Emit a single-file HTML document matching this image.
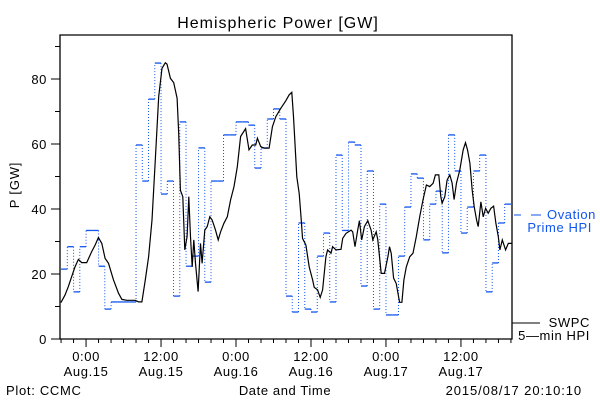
<!DOCTYPE html>
<html><head><meta charset="utf-8"><style>
html,body{margin:0;padding:0;background:#fff;}
svg{display:block;font-family:"Liberation Sans",sans-serif;}
</style></head><body>
<svg id="chart" width="600" height="400" viewBox="0 0 600 400" xmlns="http://www.w3.org/2000/svg">
<rect width="600" height="400" fill="#fff"/>
<text x="278" y="28" font-size="16" letter-spacing="1" text-anchor="middle" fill="#000">Hemispheric Power [GW]</text>
<text transform="translate(19,185) rotate(-90)" font-size="13" letter-spacing="0.8" text-anchor="middle" fill="#000">P [GW]</text>
<text x="285" y="395" font-size="13" letter-spacing="0.6" text-anchor="middle" fill="#000">Date and Time</text>
<text x="6" y="395" font-size="13" letter-spacing="0.7" fill="#000">Plot: CCMC</text>
<text x="582" y="395" font-size="13" letter-spacing="0.9" text-anchor="end" fill="#000">2015/08/17 20:10:10</text>
<g id="legend">
<g>
<line x1="514" y1="215" x2="521" y2="215" stroke="#1155ee" stroke-width="1"/>
<line x1="531" y1="215" x2="541" y2="215" stroke="#1155ee" stroke-width="1"/>
<text x="596" y="219" font-size="13" letter-spacing="0.6" fill="#1155ee" text-anchor="end">Ovation</text>
<text x="592" y="232" font-size="13" letter-spacing="0.6" fill="#1155ee" text-anchor="end">Prime HPI</text>
</g>
<g>
<line x1="512" y1="323" x2="540" y2="323" stroke="#000" stroke-width="1"/>
<text x="590" y="327" font-size="13" letter-spacing="0.6" fill="#000" text-anchor="end">SWPC</text>
<text x="590" y="340" font-size="13" letter-spacing="0.6" fill="#000" text-anchor="end">5—min HPI</text>
</g>
</g>
<g id="plot"></g>
</svg>
<script>
// data (hours relative to Aug.15 0:00)
const ovationStart = -4.0;
const ovationValues = [21.5,28.4,14.5,28.4,33.4,33.4,22.4,9.2,11.4,11.4,11.4,11.4,59.7,48.6,73.8,84.9,44.6,48.6,13.2,66.8,22.4,25.5,58.8,17.5,48.6,48.6,62.8,62.8,66.8,66.8,65.8,52.6,58.8,67.7,70.8,67.7,13.2,8.3,35.7,9.2,8.3,25.5,32.6,11.4,56.6,33.4,60.6,59.7,16.3,51.7,9.2,41.5,7.4,7.4,25.5,40.6,50.8,49.5,30.5,41.5,45.5,26.5,62.8,51.7,32.6,40.6,51.7,56.6,14.5,23.4,35.7,41.5];
const hpiTimes = [-4.02,-3.37,-2.84,-2.30,-1.77,-1.23,-0.70,0.11,0.91,1.45,1.98,2.52,3.05,3.59,4.39,5.2,5.73,6.53,7.87,8.41,8.94,9.48,10.01,10.55,11.08,11.62,12.15,12.69,12.96,13.5,14.03,14.57,14.83,15.1,15.48,15.8,16.17,16.44,16.71,16.98,17.24,17.51,17.94,18.31,18.58,19.01,19.39,19.81,20.19,20.72,21.15,21.53,22.06,22.6,23.13,23.67,24.2,24.74,25.54,26.08,26.61,27.15,27.42,27.95,28.49,29.29,29.83,30.36,31.16,31.97,32.5,32.93,33.2,33.41,33.73,34.11,34.48,34.64,35.18,35.71,36.25,36.52,37.05,37.48,37.86,38.39,38.66,39.2,39.46,40,40.8,41.07,41.6,42.41,42.68,43.05,43.48,43.75,44.12,44.55,45.09,45.62,45.89,46.43,46.7,47.24,47.77,48.31,48.57,48.84,49.22,49.64,50.18,50.55,50.87,51.25,51.79,52.32,52.86,53.39,53.93,54.47,55,55.54,55.91,56.45,56.77,56.98,57.41,57.79,58.22,58.59,58.91,59.29,59.82,60.36,60.73,61.05,61.43,61.8,62.12,62.5,62.76,63.19,63.56,63.94,64.36,64.79,65.22,65.59,65.97,66.24,66.61,67.15,67.58,68.11];
const hpiValues = [11.2,13.5,16.1,19.2,22.2,24.5,23.5,23.5,26.9,28.9,31.2,29.4,24.8,23.3,18.2,14.1,12.2,11.9,11.9,11.4,11.4,18.2,25.3,36.6,55.1,74.6,83.3,85,84.6,80.2,78.9,74.1,63.3,45.8,43.8,27.4,31.5,43.8,31.5,22.2,30.5,23.3,14.6,29.4,23.3,33.5,34.6,37.6,36.6,33.5,30.5,33,35.6,37.6,42.8,46.9,53,62.3,64.7,58.2,59.7,59.7,61.8,59.2,58.7,58.7,65.3,68.4,71,73.3,75.1,75.9,68.4,61.2,49.9,44.8,35.6,31,28.9,22.2,18.2,15.9,15.1,12.8,15.1,25.3,27.4,26.4,28.4,27.4,27.6,31,32.5,33.5,33,28.4,33.5,36.4,30.5,34.6,36.4,33.5,30.5,33,30.5,20.2,20.2,25.3,28.4,26.4,18.7,17.1,11.3,11.3,18.2,22.2,25.3,26.4,31.5,37.6,42.8,47.4,46.9,47.9,50.5,50.5,43.8,41.8,43.8,48.9,50.5,48,42.9,48,52,58.2,60.4,58.2,54.1,45.8,40.7,36.6,34.6,42.2,37.6,40.2,38.7,40.2,40.9,35.6,31.5,27.4,30.5,27.4,29.4,29.4];
const yTickValues = [0,20,40,60,80];
const xTickHours = [0,12,24,36,48,60];
const xTickTimes = ["0:00","12:00","0:00","12:00","0:00","12:00"];
const xTickDates = ["Aug.15","Aug.15","Aug.16","Aug.16","Aug.17","Aug.17"];

const L=60,R=512,T=35,B=339;
const hMin=-4.17,hMax=68.17;
function xs(h){return L+(h-hMin)/(hMax-hMin)*(R-L);}
function ys(v){return B-v*3.25;}
const NS="http://www.w3.org/2000/svg";
const g=document.getElementById('plot');
function el(tag,attrs,parent){const e=document.createElementNS(NS,tag);for(const k in attrs)e.setAttribute(k,attrs[k]);(parent||g).appendChild(e);return e;}

// ovation series
const ovG=el('g',{});


for(let i=0;i<ovationValues.length;i++){
  const x1=xs(ovationStart+i),x2=Math.min(xs(ovationStart+i+1),R);
  const y=ys(ovationValues[i]);
  const s=el('line',{x1:x1,y1:y,x2:x2,y2:y,stroke:'#1155ee','stroke-width':1.3},ovG);
  
  
  if(i<ovationValues.length-1){
    const yn=ys(ovationValues[i+1]);
    const d=el('line',{x1:x2,y1:y,x2:x2,y2:yn,stroke:'#1155ee','stroke-width':1,'stroke-dasharray':'1 2'},ovG);
    
    
  }
}
// hpi line
const pts=hpiTimes.map((t,i)=>Math.min(xs(t),R).toFixed(1)+','+ys(hpiValues[i]).toFixed(1)).join(' ');
const hl=el('polyline',{points:pts,fill:'none',stroke:'#000','stroke-width':1.2});



// axes box
const box=el('path',{d:`M${L},${T}H${R}V${B}H${L}Z`,fill:'none',stroke:'#000','stroke-width':1.3});


// y ticks
for(let v=0;v<=90;v+=10){
  const major=v%20===0;
  const t=el('line',{x1:major?51:55,x2:L,y1:ys(v),y2:ys(v),stroke:'#000','stroke-width':1});
  
  
}
yTickValues.forEach(v=>{
  const t=el('text',{x:47,y:ys(v)+5,'font-size':13,'letter-spacing':0.6,'text-anchor':'end',fill:'#000'});
  t.textContent=v;
  
  
});
// x ticks
for(let h=-4;h<=68;h+=2){
  const major=h%12===0;
  const t=el('line',{x1:xs(h),x2:xs(h),y1:B,y2:major?B+8:B+4,stroke:'#000','stroke-width':1});
  
  
}
xTickHours.forEach((h,i)=>{
  const t=el('text',{x:xs(h),y:361,'font-size':13,'letter-spacing':0.6,'text-anchor':'middle',fill:'#000'});
  t.textContent=xTickTimes[i];
  
  
  const d=el('text',{x:xs(h),y:376,'font-size':13,'letter-spacing':0.6,'text-anchor':'middle',fill:'#000'});
  d.textContent=xTickDates[i];
  
  
});
</script>
</body></html>
